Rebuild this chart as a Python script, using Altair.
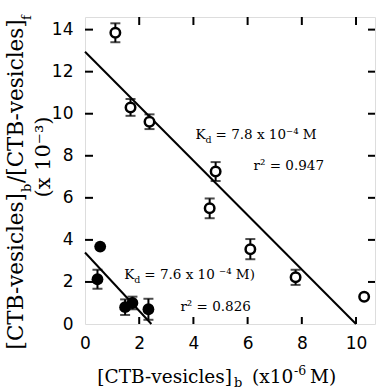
import altair as alt
import pandas as pd

# ---- data ----
open_x = [1.12, 1.68, 2.38, 4.82, 4.60, 6.10, 7.77, 10.30]
open_y = [13.85, 10.30, 9.62, 7.25, 5.50, 3.56, 2.22, 1.30]
open_err = [0.45, 0.40, 0.35, 0.45, 0.47, 0.48, 0.36, 0.0]

filled_x = [0.56, 0.46, 1.48, 1.75, 2.34]
filled_y = [3.68, 2.13, 0.80, 1.00, 0.70]
filled_err = [0.0, 0.45, 0.37, 0.30, 0.50]

open_fit_x = [0.0, 10.0]
open_fit_y = [12.95, 0.0]
filled_fit_x = [0.0, 2.45]
filled_fit_y = [3.4, 0.0]

x_ticks = [0, 2, 4, 6, 8, 10]
y_ticks = [0, 2, 4, 6, 8, 10, 12, 14]

# ---- tables ----
df_open = pd.DataFrame({"x": open_x, "y": open_y, "err": open_err})
df_filled = pd.DataFrame({"x": filled_x, "y": filled_y, "err": filled_err})
df_open_fit = pd.DataFrame({"x": open_fit_x, "y": open_fit_y})
df_filled_fit = pd.DataFrame({"x": filled_fit_x, "y": filled_fit_y})
df_xt = pd.DataFrame({"v": x_ticks[1:]})
df_yt = pd.DataFrame({"v": y_ticks[1:]})
one = pd.DataFrame({"a": [0]})

W, H = 290, 307
PL, PT = 85, 17

x_scale = alt.Scale(domain=[0, 10.7], nice=False, zero=False)
y_scale = alt.Scale(domain=[0, 14.6], nice=False, zero=False)
x_axis = alt.Axis(values=x_ticks, labelFont="DejaVu Sans", labelFontSize=17,
                  labelColor="black", labelPadding=11, ticks=False, domain=False,
                  grid=False, title=None, format="d", labelFlush=False)
y_axis = alt.Axis(values=y_ticks, labelFont="DejaVu Sans", labelFontSize=17,
                  labelColor="black", labelPadding=12, ticks=False, domain=False,
                  grid=False, title=None, format="d")


def X(f):
    return alt.X(f, type="quantitative", scale=x_scale, axis=x_axis)


def Y(f):
    return alt.Y(f, type="quantitative", scale=y_scale, axis=y_axis)


layers = []

# regression lines
for d in (df_open_fit, df_filled_fit):
    layers.append(alt.Chart(d).mark_line(color="black", strokeWidth=2).encode(x=X("x"), y=Y("y")))

# error bars
for d in (df_open, df_filled):
    eb = alt.Chart(d).transform_filter("datum.err > 0").transform_calculate(
        lo="datum.y - datum.err", hi="datum.y + datum.err")
    layers.append(eb.mark_rule(color="black", strokeWidth=2).encode(x=X("x"), y=Y("lo:Q"), y2="hi:Q"))
    layers.append(eb.mark_tick(orient="horizontal", size=10, thickness=2, color="black")
                  .encode(x=X("x"), y=Y("lo:Q")))
    layers.append(eb.mark_tick(orient="horizontal", size=10, thickness=2, color="black")
                  .encode(x=X("x"), y=Y("hi:Q")))

# points
layers.append(alt.Chart(df_open).mark_point(shape="circle", filled=False, fill="white", fillOpacity=1,
                                            stroke="black", strokeWidth=2.5, size=90, opacity=1)
              .encode(x=X("x"), y=Y("y")))
layers.append(alt.Chart(df_filled).mark_point(shape="circle", filled=True, color="black", size=140, opacity=1)
              .encode(x=X("x"), y=Y("y")))

# inward ticks
tk = dict(color="black", strokeWidth=2)
layers.append(alt.Chart(df_xt).mark_rule(**tk).encode(x=X("v"), y=alt.value(H), y2=alt.value(H - 7)))
layers.append(alt.Chart(df_xt).mark_rule(**tk).encode(x=X("v"), y=alt.value(0), y2=alt.value(8)))
layers.append(alt.Chart(df_yt).mark_rule(**tk).encode(y=Y("v"), x=alt.value(0), x2=alt.value(8)))
layers.append(alt.Chart(df_yt).mark_rule(**tk).encode(y=Y("v"), x=alt.value(W), x2=alt.value(W - 7)))

SERIF = "DejaVu Serif"


# annotations (data coordinates)
def annot(xv, yv, rest):
    d = pd.DataFrame({"x": [xv], "y": [yv]})
    return [
        alt.Chart(d).mark_text(text="K", align="left", baseline="middle", font=SERIF, fontSize=13.5,
                               color="black").encode(x=X("x"), y=Y("y")),
        alt.Chart(d).mark_text(text="d", align="left", baseline="middle", font=SERIF, fontSize=9.5,
                               color="black", dx=10, dy=5).encode(x=X("x"), y=Y("y")),
        alt.Chart(d).mark_text(text=rest, align="left", baseline="middle", font=SERIF, fontSize=13.5,
                               color="black", dx=20).encode(x=X("x"), y=Y("y")),
    ]


layers += annot(4.08, 9.0, "= 7.8 x 10\u207b\u2074 M")
layers += annot(1.45, 2.35, "= 7.6 x 10 \u207b\u2074 M)")
layers.append(alt.Chart(pd.DataFrame({"x": [6.22], "y": [7.52]})).mark_text(
    text="r\u00b2 = 0.947", align="left", baseline="middle", font=SERIF, fontSize=13.5, color="black")
    .encode(x=X("x"), y=Y("y")))
layers.append(alt.Chart(pd.DataFrame({"x": [3.52], "y": [0.80]})).mark_text(
    text="r\u00b2 = 0.826", align="left", baseline="middle", font=SERIF, fontSize=13.5, color="black")
    .encode(x=X("x"), y=Y("y")))


# axis titles as text pieces (pixel positions relative to plot origin)
def txt(t, ax, ay, size, align="left", angle=0, baseline="alphabetic"):
    kw = dict(text=t, align=align, baseline=baseline, font=SERIF, fontSize=size, color="black")
    if angle:
        kw["angle"] = angle
    return alt.Chart(one).mark_text(**kw).encode(x=alt.value(ax - PL), y=alt.value(ay - PT))


# x title
layers.append(txt("[CTB-vesicles]", 232, 383, 18.5, align="right"))
layers.append(txt("b", 234, 387, 13))
layers.append(txt("(x10", 252, 383, 18.5))
layers.append(txt("-6", 294, 375, 12.5))
layers.append(txt("M)", 310, 383, 18.5))

# y title line 1 (rotated)
yb = 193
layers.append(txt("[CTB-vesicles]", 23, yb, 21.5, align="right", angle=270))
layers.append(txt("b", 31, yb - 1, 13, angle=270))
layers.append(txt("/[CTB-vesicles]", 23, yb - 10, 21.5, angle=270))
layers.append(txt("f", 31, 20, 13, angle=270))
# y title line 2
layers.append(txt("(x 10\u207b\u00b3)", 50, 157, 21, align="center", angle=270))

chart = alt.layer(*layers).properties(
    width=W, height=H,
    padding={"left": PL, "top": PT, "right": 384 - PL - W, "bottom": 389 - PT - H},
    autosize=alt.AutoSizeParams(type="none"),
).configure_view(stroke="black", strokeWidth=2).configure(background="white")

chart.save("out.html", embed_options={"renderer": "svg", "actions": False})
